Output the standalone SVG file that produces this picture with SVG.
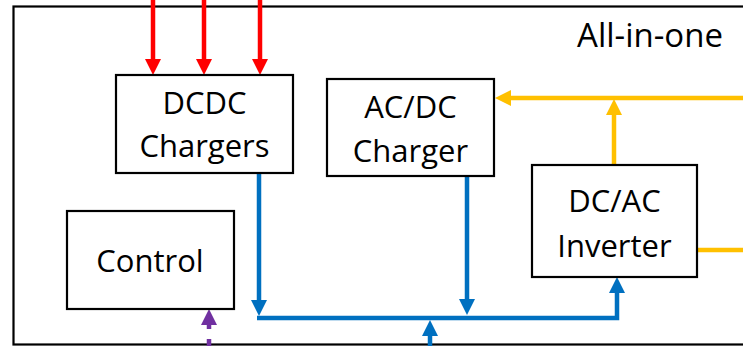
<svg xmlns="http://www.w3.org/2000/svg" width="743" height="346" viewBox="0 0 743 346">
<style>
.box{fill:#fff;stroke:#000;stroke-width:2.2}
.t{font-family:"Open Sans","Liberation Sans",sans-serif;font-size:31px;fill:#000;text-anchor:middle}
.red{fill:none;stroke:#FF0000;stroke-width:4.5}
.blue{fill:none;stroke:#0070C0;stroke-width:4.5}
.yel{fill:none;stroke:#FFC000;stroke-width:4.5}
.pur{fill:none;stroke:#7030A0;stroke-width:4.5;stroke-dasharray:7,10}
</style>
<defs>
<marker id="mr" viewBox="0 0 16 16" refX="10" refY="8" markerWidth="16" markerHeight="16" markerUnits="userSpaceOnUse" orient="auto"><path d="M0,0 L16,8 L0,16 z" fill="#FF0000"/></marker>
<marker id="mb" viewBox="0 0 16 16" refX="10" refY="8" markerWidth="16" markerHeight="16" markerUnits="userSpaceOnUse" orient="auto"><path d="M0,0 L16,8 L0,16 z" fill="#0070C0"/></marker>
<marker id="my" viewBox="0 0 16 16" refX="10" refY="8" markerWidth="16" markerHeight="16" markerUnits="userSpaceOnUse" orient="auto"><path d="M0,0 L16,8 L0,16 z" fill="#FFC000"/></marker>
<marker id="mp" viewBox="0 0 16 16" refX="10" refY="8" markerWidth="16" markerHeight="16" markerUnits="userSpaceOnUse" orient="auto"><path d="M0,0 L16,8 L0,16 z" fill="#7030A0"/></marker>
</defs>
<g id="all-in-one">
<rect x="13.5" y="6.5" width="740" height="338" fill="#fff" stroke="#000" stroke-width="2.2"/>
<text class="t" x="650" y="47" style="font-size:33px">All-in-one</text>
</g>
<g id="connectors">
<path class="red" d="M153,0 V69" marker-end="url(#mr)"/>
<path class="red" d="M204,0 V69" marker-end="url(#mr)"/>
<path class="red" d="M260,0 V69" marker-end="url(#mr)"/>
<path class="blue" d="M259,174 V310" marker-end="url(#mb)"/>
<path class="blue" d="M257,318 H617 V283" marker-end="url(#mb)"/>
<path class="blue" d="M467,177 V309" marker-end="url(#mb)"/>
<path class="blue" d="M430,346 V326" marker-end="url(#mb)"/>
<path class="yel" d="M743,98 H501" marker-end="url(#my)"/>
<path class="yel" d="M614,165 V105" marker-end="url(#my)"/>
<path class="yel" d="M698,250 H743"/>
<path class="pur" d="M209,346 V315" marker-end="url(#mp)"/>
</g>
<g id="dcdc">
<rect class="box" x="116" y="75" width="177" height="98"/>
<text class="t" x="204.5" y="114">DCDC</text>
<text class="t" x="204.5" y="157">Chargers</text>
</g>
<g id="acdc">
<rect class="box" x="327" y="79" width="167" height="97"/>
<text class="t" x="410.5" y="118">AC/DC</text>
<text class="t" x="410.5" y="162">Charger</text>
</g>
<g id="inverter">
<rect class="box" x="532" y="165" width="165" height="112"/>
<text class="t" x="614.5" y="212">DC/AC</text>
<text class="t" x="614.5" y="257">Inverter</text>
</g>
<g id="control">
<rect class="box" x="67" y="211" width="167" height="98"/>
<text class="t" x="150" y="272">Control</text>
</g>
</svg>
